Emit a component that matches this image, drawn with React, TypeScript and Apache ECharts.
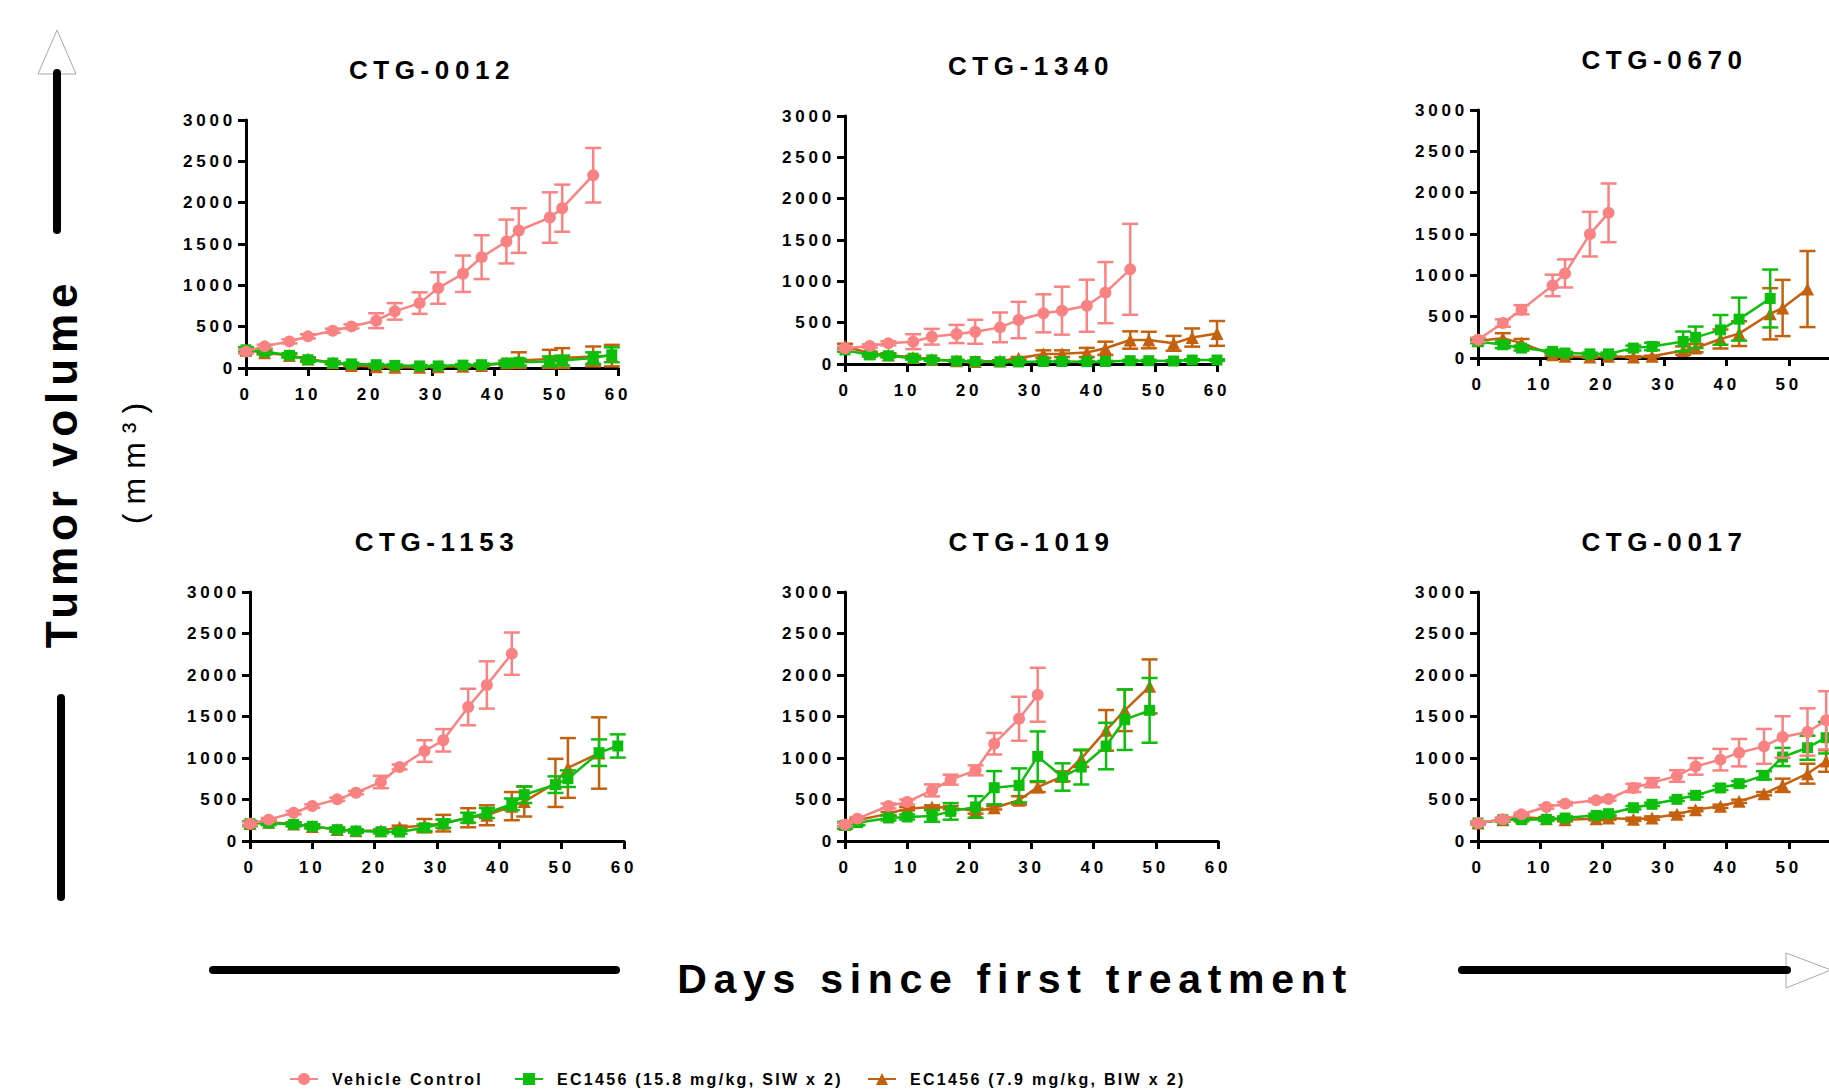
import React, { useEffect, useRef } from 'react';
import * as echarts from 'echarts';

// ---------- labels ----------
const SERIES_NAMES = ['Vehicle Control', 'EC1456 (15.8 mg/kg, SIW x 2)', 'EC1456 (7.9 mg/kg, BIW x 2)'];
const SERIES_COLORS = ['#F98282', '#0DBE0D', '#C4610E'];
const SERIES_SYMBOLS = ['circle', 'rect', 'triangle'];
const SERIES_SYMBOL_SIZES = [12, 11, 13];
const PANEL_TITLES = ['CTG-0012', 'CTG-1340', 'CTG-0670', 'CTG-1153', 'CTG-1019', 'CTG-0017'];
const Y_TITLE = 'Tumor volume';
const Y_UNIT = '(mm³)';
const X_TITLE = 'Days since first treatment';

// axis ranges
const X_MIN = 0;
const X_MAX = 60;
const X_STEP = 10;
const Y_MIN = 0;
const Y_MAX = 3000;
const Y_STEP = 500;

// ---------- data (mean, SEM) ----------
// CTG-0012
const P1_DAYS = [0, 3, 7, 10, 14, 17, 21, 24, 28, 31, 35, 38, 42, 44, 49, 51, 56, 59];
const P1_VEH = [200, 262, 322, 383, 451, 503, 572, 685, 785, 967, 1140, 1341, 1530, 1663, 1820, 1933, 2332];
const P1_VEH_ERR = [25, 20, 25, 25, 25, 25, 90, 100, 130, 190, 220, 265, 265, 270, 305, 285, 330];
const P1_SIW = [220, 200, 153, 100, 60, 50, 40, 32, 25, 25, 35, 40, 60, 70, 80, 90, 120, 160];
const P1_SIW_ERR = [30, 30, 25, 25, 15, 15, 10, 10, 10, 10, 10, 15, 20, 40, 60, 60, 70, 90];
const P1_BIW = [215, 185, 150, 110, 65, 30, 15, 10, 10, 15, 20, 30, 60, 90, 110, 120, 140, 150];
const P1_BIW_ERR = [20, 20, 20, 20, 15, 10, 10, 5, 5, 5, 10, 15, 30, 100, 110, 120, 120, 130];

// CTG-1340
const P2_DAYS = [0, 4, 7, 11, 14, 18, 21, 25, 28, 32, 35, 39, 42, 46, 49, 53, 56, 60];
const P2_VEH = [190, 218, 250, 270, 330, 363, 390, 443, 532, 613, 645, 705, 863, 1145];
const P2_VEH_ERR = [20, 20, 25, 90, 95, 110, 145, 180, 220, 230, 290, 315, 370, 550];
const P2_SIW = [170, 110, 100, 70, 50, 36, 30, 28, 25, 30, 30, 28, 30, 40, 40, 36, 48, 48];
const P2_SIW_ERR = [20, 20, 20, 15, 10, 10, 8, 8, 8, 8, 8, 8, 8, 10, 10, 10, 10, 10];
const P2_BIW = [215, 130, 110, 80, 55, 40, 30, 36, 70, 120, 125, 140, 190, 290, 290, 250, 320, 370];
const P2_BIW_ERR = [30, 20, 20, 20, 15, 10, 10, 10, 15, 45, 40, 55, 80, 105, 100, 90, 110, 150];

// CTG-0670
const P3_DAYS = [0, 4, 7, 12, 14, 18, 21, 25, 28, 33, 35, 39, 42, 47, 49, 53];
const P3_VEH = [220, 423, 584, 878, 1023, 1498, 1756];
const P3_VEH_ERR = [25, 45, 55, 130, 170, 270, 355];
const P3_SIW = [200, 160, 120, 80, 60, 50, 50, 120, 140, 200, 250, 340, 470, 720];
const P3_SIW_ERR = [20, 40, 30, 20, 15, 15, 15, 30, 45, 120, 130, 180, 260, 350];
const P3_BIW = [210, 240, 180, 40, 20, 12, 20, 12, 20, 90, 120, 230, 295, 535, 605, 834];
const P3_BIW_ERR = [20, 60, 50, 15, 10, 8, 8, 8, 8, 50, 50, 115, 150, 310, 340, 460];

// CTG-1153
const P4_DAYS = [0, 3, 7, 10, 14, 17, 21, 24, 28, 31, 35, 38, 42, 44, 49, 51, 56, 59];
const P4_VEH = [209, 257, 341, 422, 502, 582, 711, 892, 1084, 1213, 1614, 1880, 2257];
const P4_VEH_ERR = [20, 20, 20, 20, 20, 20, 75, 30, 130, 135, 220, 285, 255];
const P4_SIW = [209, 217, 200, 177, 137, 120, 112, 108, 160, 209, 281, 337, 442, 558, 679, 751, 1064, 1145];
const P4_SIW_ERR = [30, 25, 25, 25, 25, 20, 20, 20, 40, 50, 60, 60, 70, 100, 100, 100, 160, 140];
const P4_BIW = [210, 225, 205, 175, 140, 125, 125, 165, 185, 215, 280, 310, 420, 475, 700, 880, 1060];
const P4_BIW_ERR = [20, 20, 20, 20, 20, 15, 15, 20, 80, 100, 115, 120, 170, 180, 290, 360, 430];

// CTG-1019
const P5_DAYS = [0, 2, 7, 10, 14, 17, 21, 24, 28, 31, 35, 38, 42, 45, 49];
const P5_VEH = [197, 269, 422, 470, 610, 739, 851, 1172, 1473, 1762];
const P5_VEH_ERR = [20, 20, 30, 30, 72, 60, 60, 130, 265, 325];
const P5_SIW = [189, 221, 277, 289, 301, 357, 410, 642, 670, 1020, 771, 891, 1144, 1462, 1574];
const P5_SIW_ERR = [40, 30, 30, 30, 70, 100, 130, 200, 205, 300, 165, 210, 280, 365, 390];
const P5_BIW = [200, 250, 330, 390, 410, 402, 360, 400, 490, 650, 779, 992, 1333, 1574, 1863];
const P5_BIW_ERR = [20, 20, 20, 20, 20, 20, 30, 20, 50, 60, 60, 100, 245, 250, 325];

// CTG-0017
const P6_DAYS = [0, 4, 7, 11, 14, 19, 21, 25, 28, 32, 35, 39, 42, 46, 49, 53, 56];
const P6_VEH = [217, 261, 321, 410, 450, 490, 506, 639, 703, 783, 899, 980, 1064, 1140, 1253, 1313, 1454];
const P6_VEH_ERR = [20, 20, 20, 20, 20, 20, 20, 50, 55, 70, 100, 130, 165, 210, 250, 285, 350];
const P6_SIW = [217, 257, 257, 261, 277, 309, 329, 401, 442, 502, 550, 639, 691, 791, 1012, 1124, 1245];
const P6_SIW_ERR = [20, 20, 20, 20, 20, 20, 20, 20, 20, 20, 20, 25, 30, 50, 110, 145, 190];
const P6_BIW = [217, 257, 289, 269, 257, 269, 277, 261, 277, 321, 378, 418, 478, 570, 671, 811, 964];
const P6_BIW_ERR = [20, 20, 20, 20, 20, 20, 20, 20, 20, 20, 20, 20, 20, 20, 80, 120, 130];

const PANEL_DATA = [
  { days: P1_DAYS, groups: [[P1_VEH, P1_VEH_ERR], [P1_SIW, P1_SIW_ERR], [P1_BIW, P1_BIW_ERR]] },
  { days: P2_DAYS, groups: [[P2_VEH, P2_VEH_ERR], [P2_SIW, P2_SIW_ERR], [P2_BIW, P2_BIW_ERR]] },
  { days: P3_DAYS, groups: [[P3_VEH, P3_VEH_ERR], [P3_SIW, P3_SIW_ERR], [P3_BIW, P3_BIW_ERR]] },
  { days: P4_DAYS, groups: [[P4_VEH, P4_VEH_ERR], [P4_SIW, P4_SIW_ERR], [P4_BIW, P4_BIW_ERR]] },
  { days: P5_DAYS, groups: [[P5_VEH, P5_VEH_ERR], [P5_SIW, P5_SIW_ERR], [P5_BIW, P5_BIW_ERR]] },
  { days: P6_DAYS, groups: [[P6_VEH, P6_VEH_ERR], [P6_SIW, P6_SIW_ERR], [P6_BIW, P6_BIW_ERR]] },
];

// ---------- layout ----------
const W = 1829;
const H = 1090;
const GRID_BOXES = [
  [246, 120, 372, 248],
  [845, 116, 372, 248],
  [1478, 110, 373, 248],
  [250, 592, 374, 249],
  [845, 592, 373, 249],
  [1478, 592, 373, 249],
];
const TITLE_GAP = 50;
const LEGEND_LEFTS = [289, 514, 867];
const FONT = 'Liberation Sans, Arial, sans-serif';
// letter spacing (px) per font size, imitating the spaced-out typography
const LETTER_SPACING: Record<number, number> = { 17: 3.8, 26: 5.6, 41: 6.7, 44: 5.9, 16: 2.3, 32: 9 };

function buildOption() {
  const grid = GRID_BOXES.map(([l, t, w, h]) => ({
    left: l, top: t, width: w, height: h, containLabel: false, outerBoundsMode: 'none',
  }));
  const axisCommon = {
    axisLine: { show: true, onZero: false, lineStyle: { color: '#000', width: 3 } },
    axisTick: { show: true, inside: false, length: 8, lineStyle: { color: '#000', width: 3 } },
    splitLine: { show: false },
  };
  const labelStyle = {
    color: '#000', fontSize: 17, fontWeight: 'bold', fontFamily: FONT,
    formatter: (v: number) => String(v),
  };
  const xAxis = GRID_BOXES.map(([l, , w], i) => ({
    type: 'value', gridIndex: i, min: X_MIN, max: X_MAX, interval: X_STEP,
    ...axisCommon,
    // the right-most panels run past the page edge, so their last label is off the page
    axisLabel: { ...labelStyle, margin: 18, showMaxLabel: l + w <= W },
  }));
  const yAxis = GRID_BOXES.map((_, i) => ({
    type: 'value', gridIndex: i, min: Y_MIN, max: Y_MAX, interval: Y_STEP,
    ...axisCommon,
    axisLabel: { ...labelStyle, margin: 10 },
  }));

  const series: any[] = [];
  const drawOrder = [2, 1, 0]; // BIW bottom, SIW, vehicle on top
  PANEL_DATA.forEach((panel, p) => {
    drawOrder.forEach((g, k) => {
      const [vals, errs] = panel.groups[g];
      const color = SERIES_COLORS[g];
      const z = 3 + k;
      series.push({
        type: 'custom',
        name: SERIES_NAMES[g] + ' SEM',
        xAxisIndex: p,
        yAxisIndex: p,
        z,
        clip: false,
        silent: true,
        encode: { x: 0, y: 1 },
        data: vals.map((v, i) => [panel.days[i], v, errs[i]]),
        renderItem: (params: any, api: any) => {
          const x = api.value(0);
          const y = api.value(1);
          const e = api.value(2);
          const top = api.coord([x, y + e]);
          const bot = api.coord([x, Math.max(0, y - e)]);
          const hw = 8;
          const style = { stroke: color, lineWidth: 2.5 };
          return {
            type: 'group',
            children: [
              { type: 'line', shape: { x1: top[0], y1: top[1], x2: bot[0], y2: bot[1] }, style },
              { type: 'line', shape: { x1: top[0] - hw, y1: top[1], x2: top[0] + hw, y2: top[1] }, style },
              { type: 'line', shape: { x1: bot[0] - hw, y1: bot[1], x2: bot[0] + hw, y2: bot[1] }, style },
            ],
          };
        },
      });
      series.push({
        type: 'line',
        name: SERIES_NAMES[g],
        xAxisIndex: p,
        yAxisIndex: p,
        z,
        clip: false,
        data: vals.map((v, i) => [panel.days[i], v]),
        symbol: SERIES_SYMBOLS[g],
        symbolSize: SERIES_SYMBOL_SIZES[g],
        showAllSymbol: true,
        lineStyle: { color, width: 2.5 },
        itemStyle: { color, opacity: 1 },
        emphasis: { disabled: true },
      });
    });
  });

  const legend = SERIES_NAMES.map((name, i) => ({
    data: [name],
    left: LEGEND_LEFTS[i],
    top: 1071,
    padding: 0,
    itemWidth: 28,
    itemHeight: 15,
    selectedMode: false,
    textStyle: { color: '#000', fontSize: 16, fontWeight: 'bold', fontFamily: FONT, padding: [0, 0, 0, 9] },
  }));

  const textStyle = (text: string, size: number, weight: string) => ({
    text, fill: '#000', fontSize: size, fontWeight: weight, fontFamily: FONT,
    align: 'center', verticalAlign: 'middle', textAlign: 'center', textVerticalAlign: 'middle',
  });

  const graphic: any[] = [];
  GRID_BOXES.forEach(([l, t, w], i) => {
    graphic.push({ type: 'text', x: l + w / 2, y: t - TITLE_GAP, silent: true, style: textStyle(PANEL_TITLES[i], 26, 'bold') });
  });
  // vertical arrow (left)
  graphic.push({ type: 'polygon', silent: true, shape: { points: [[57, 30], [38, 74], [76, 74]] }, style: { fill: '#fff', stroke: '#a8a8a8', lineWidth: 1 } });
  graphic.push({ type: 'line', silent: true, shape: { x1: 57, y1: 73, x2: 57, y2: 230 }, style: { stroke: '#000', lineWidth: 8, lineCap: 'round' } });
  graphic.push({ type: 'line', silent: true, shape: { x1: 61, y1: 698, x2: 61, y2: 897 }, style: { stroke: '#000', lineWidth: 8, lineCap: 'round' } });
  graphic.push({ type: 'text', x: 61, y: 463, rotation: Math.PI / 2, silent: true, style: textStyle(Y_TITLE, 44, 'bold') });
  graphic.push({ type: 'text', x: 134, y: 459, rotation: Math.PI / 2, silent: true, style: textStyle(Y_UNIT, 32, 'normal') });
  // horizontal arrow (bottom)
  graphic.push({ type: 'line', silent: true, shape: { x1: 213, y1: 970, x2: 616, y2: 970 }, style: { stroke: '#000', lineWidth: 8, lineCap: 'round' } });
  graphic.push({ type: 'polygon', silent: true, shape: { points: [[1786, 953], [1786, 988], [1831, 970]] }, style: { fill: '#fff', stroke: '#a8a8a8', lineWidth: 1 } });
  graphic.push({ type: 'line', silent: true, shape: { x1: 1462, y1: 970, x2: 1787, y2: 970 }, style: { stroke: '#000', lineWidth: 8, lineCap: 'round' } });
  graphic.push({ type: 'text', x: 1015, y: 979, silent: true, style: textStyle(X_TITLE, 41, 'bold') });

  return {
    animation: false,
    backgroundColor: '#ffffff',
    grid,
    xAxis,
    yAxis,
    legend,
    graphic,
    series,
  };
}

function applyLetterSpacing(root: HTMLElement) {
  root.querySelectorAll('text').forEach((t) => {
    const fs = Math.round(parseFloat(getComputedStyle(t).fontSize));
    const ls = LETTER_SPACING[fs];
    if (ls != null) (t as any).style.letterSpacing = ls + 'px';
  });
}

export default function App() {
  const ref = useRef<HTMLDivElement>(null);
  useEffect(() => {
    const el = ref.current;
    if (!el) return;
    const chart = echarts.init(el, undefined, { renderer: 'svg', width: W, height: H });
    chart.setOption(buildOption() as any);
    applyLetterSpacing(el);
    const raf = requestAnimationFrame(() => applyLetterSpacing(el));
    const tm = setTimeout(() => applyLetterSpacing(el), 50);
    return () => {
      cancelAnimationFrame(raf);
      clearTimeout(tm);
      chart.dispose();
    };
  }, []);
  return (
    <div
      ref={ref}
      style={{ position: 'absolute', left: 0, top: 0, width: W, height: H, background: '#ffffff' }}
    />
  );
}
